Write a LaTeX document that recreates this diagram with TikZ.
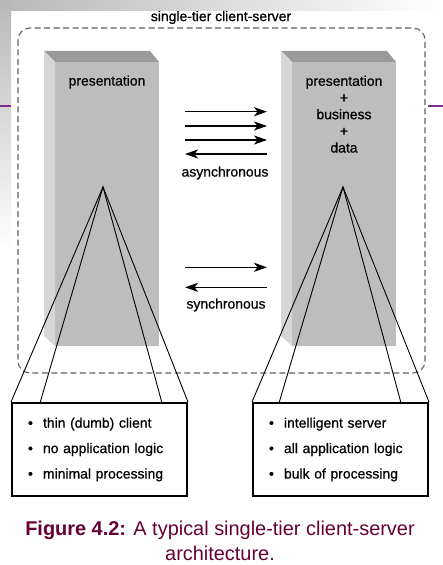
\documentclass[tikz,border=0pt]{standalone}
\usepackage{fontspec}
\setmainfont{Liberation Sans}
\newfontfamily\diafont[FakeBold=0.6]{Liberation Sans}
\usetikzlibrary{arrows.meta}
\definecolor{frontgray}{HTML}{BDBDBD}
\definecolor{topgray}{HTML}{9A9A9A}
\definecolor{sidegray}{HTML}{D6D6D6}
\definecolor{dashgray}{HTML}{606060}
\definecolor{slidepurple}{HTML}{7B2D8E}
\definecolor{captionred}{RGB}{102,0,51}
\tikzset{
  lbl/.style={font=\diafont\fontsize{14}{16.75}\selectfont, inner sep=0pt, text=black},
  msg/.style={line width=1.4bp, -{Stealth[length=13bp,width=9bp,inset=3.5bp]}},
  conel/.style={line width=0.9bp, black},
  listbox/.style={draw=black, line width=2bp, fill=white, minimum width=175bp, minimum height=93bp,
    inner xsep=16bp, inner ysep=0pt, text width=143bp, align=left,
    font=\diafont\fontsize{14}{25.5}\selectfont},
}
\newcommand{\bul}{\makebox[15bp][l]{\textbullet}}
\begin{document}
\begin{tikzpicture}[x=1bp,y=-1bp]
\useasboundingbox (0,0) rectangle (443,565);
% slide background
\fill[white] (0,0) rectangle (443,565);
\shade[left color=black!28, right color=white] (0,0) rectangle (443,11);
\shade[top color=black!28, bottom color=white] (0,0) rectangle (11,250);
\draw[slidepurple, line width=2bp] (0,106) -- (11,106);
\draw[slidepurple, line width=2bp] (428,106) -- (443,106);
% dashed frame
\draw[dashgray, line width=1.1bp, dash pattern=on 6bp off 3.5bp, rounded corners=12bp] (18,28) rectangle (425,373);
\node[lbl] (title) at (221,17.5) {single-tier client-server};
% blocks
\foreach \dx/\nm in {0/L,237/R}{
  \begin{scope}[xshift=\dx bp]
    \fill[frontgray] (55,62) rectangle (159,346);
    \fill[topgray] (44,51) -- (150,51) -- (159,62) -- (55,62) -- cycle;
    \fill[sidegray] (44,51) -- (55,62) -- (55,346) -- (44,336) -- cycle;
  \end{scope}
}
\node[lbl] (ltext) at (107,82) {presentation};
\node[lbl, align=center, anchor=north] (rtext) at (344,75.5) {presentation\\+\\business\\+\\data};
% messages
\coordinate (a1s) at (185,111.7); \coordinate (a1e) at (267,111.7);
\coordinate (a2s) at (185,126);   \coordinate (a2e) at (267,126);
\coordinate (a3s) at (185,140);   \coordinate (a3e) at (267,140);
\coordinate (a4s) at (267,154);   \coordinate (a4e) at (185,154);
\coordinate (s1s) at (185,267.3); \coordinate (s1e) at (267,267.3);
\coordinate (s2s) at (267,287.3); \coordinate (s2e) at (185,287.3);
\foreach \a in {a1,a2,a3,a4,s1,s2}{\draw[msg] (\a s) -- (\a e);}
\node[lbl] (async) at (225,173) {asynchronous};
\node[lbl] (sync) at (226,305) {synchronous};
% detail boxes
\node[listbox] (lbox) at (99.5,449.5) {\bul thin (dumb) client\\\bul no application logic\\\bul minimal processing};
\node[listbox] (rbox) at (340.5,449.5) {\bul intelligent server\\\bul all application logic\\\bul bulk of processing};
% cones
\coordinate (lap) at (103,187);
\coordinate (rap) at (343,187);
\coordinate (l2) at (40,403);  \coordinate (l3) at (162,403);
\coordinate (r2) at (279,403); \coordinate (r3) at (401,403);
\draw[conel] (lbox.north west) -- (lap) -- (lbox.north east);
\draw[conel] (l2) -- (lap) -- (l3);
\draw[conel] (rbox.north west) -- (rap) -- (rbox.north east);
\draw[conel] (r2) -- (rap) -- (r3);
% caption
\node[align=center, text=captionred, font=\fontsize{20}{25}\selectfont, inner sep=0pt] (caption) at (220,540.5)
  {\textbf{Figure 4.2:} A typical single-tier client-server\\architecture.};
\end{tikzpicture}
\end{document}
